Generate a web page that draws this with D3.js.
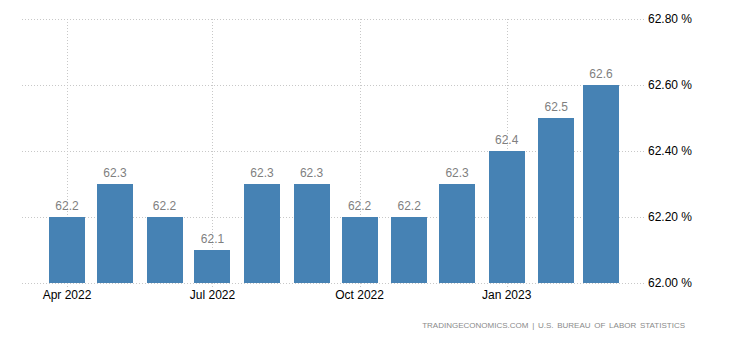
<!DOCTYPE html>
<html>
<head>
<meta charset="utf-8">
<script src="https://cdn.jsdelivr.net/npm/d3@7/dist/d3.min.js"></script>
<style>
html,body{margin:0;padding:0;background:#fff;}
svg{display:block;font-family:"Liberation Sans",Arial,sans-serif;}
</style>
</head>
<body>
<svg id="chart" width="730" height="340"></svg>
<script>
const months = ["2022-04","2022-05","2022-06","2022-07","2022-08","2022-09","2022-10","2022-11","2022-12","2023-01","2023-02","2023-03"];
const values = [62.2,62.3,62.2,62.1,62.3,62.3,62.2,62.2,62.3,62.4,62.5,62.6];
const yTicks = [62.0,62.2,62.4,62.6,62.8];
const xTicks = ["2022-04","2022-07","2022-10","2023-01"];
const xTickLabels = ["Apr 2022","Jul 2022","Oct 2022","Jan 2023"];
const sourceText = "TRADINGECONOMICS.COM | U.S. BUREAU OF LABOR STATISTICS";

const parse = d3.timeParse("%Y-%m");
const dates = months.map(parse);
const svg = d3.select("#chart");

const plotLeft = 22, plotRight = 645, plotTop = 19, plotBottom = 283;
const x = d3.scaleTime().domain([dates[0], dates[dates.length-1]]).range([67, 601]);
const y = d3.scaleLinear().domain([62.0, 62.8]).range([plotBottom, plotTop]);
const barW = 36;

// horizontal grid
svg.append("g").selectAll("line").data(yTicks).join("line")
  .attr("x1", plotLeft).attr("x2", plotRight)
  .attr("y1", d => y(d)).attr("y2", d => y(d))
  .attr("stroke", "#c8c8c8").attr("stroke-width", 1)
  .attr("stroke-dasharray", "1,2").attr("shape-rendering", "crispEdges");

// vertical grid + ticks
svg.append("g").selectAll("line").data(xTicks.map(parse)).join("line")
  .attr("x1", d => Math.round(x(d)) + 0.5).attr("x2", d => Math.round(x(d)) + 0.5)
  .attr("y1", plotTop).attr("y2", plotBottom + 4)
  .attr("stroke", "#c8c8c8").attr("stroke-width", 1)
  .attr("stroke-dasharray", "1,2");

// bars
svg.append("g").selectAll("rect").data(values).join("rect")
  .attr("x", (d, i) => Math.round(x(dates[i]) - barW / 2))
  .attr("width", barW)
  .attr("y", d => y(d))
  .attr("height", d => y(62.0) - y(d))
  .attr("fill", "#4682b4");

// value labels
svg.append("g").selectAll("text").data(values).join("text")
  .attr("x", (d, i) => x(dates[i]))
  .attr("y", d => y(d) - 7)
  .attr("text-anchor", "middle")
  .attr("font-size", 12)
  .attr("fill", "#7f7f7f")
  .text(d => d3.format(".1f")(d));

// x axis labels
svg.append("g").selectAll("text").data(xTicks).join("text")
  .attr("x", d => x(parse(d)))
  .attr("y", 299)
  .attr("text-anchor", "middle")
  .attr("font-size", 12)
  .attr("fill", "#000")
  .text((d, i) => xTickLabels[i]);

// y axis labels
svg.append("g").selectAll("text").data(yTicks).join("text")
  .attr("x", 648)
  .attr("y", d => y(d))
  .attr("dy", "0.35em")
  .attr("font-size", 12)
  .attr("fill", "#000")
  .text(d => d3.format(".2f")(d) + " %");

// source
svg.append("text")
  .attr("x", 685).attr("y", 328)
  .attr("text-anchor", "end")
  .attr("font-size", 8)
  .attr("fill", "#8a8a8a")
  .attr("word-spacing", 1.5)
  .text(sourceText);
</script>
</body>
</html>
